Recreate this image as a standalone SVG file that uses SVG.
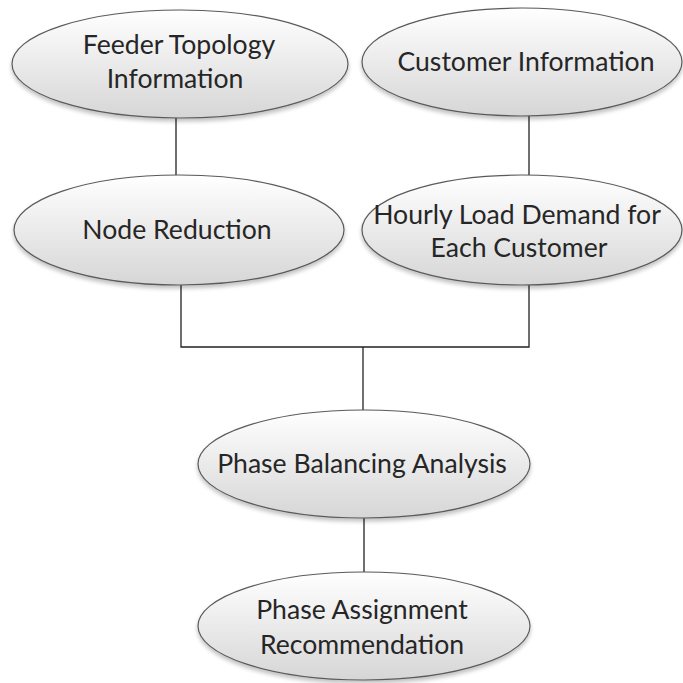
<svg xmlns="http://www.w3.org/2000/svg" width="683" height="683" viewBox="0 0 683 683">
<defs>
<linearGradient id="g" x1="0" y1="0" x2="0" y2="1">
<stop offset="0" stop-color="#ffffff"/>
<stop offset="1" stop-color="#d6d6d6"/>
</linearGradient>
<filter id="sh" x="-10%" y="-10%" width="120%" height="130%">
<feGaussianBlur in="SourceAlpha" stdDeviation="2"/>
<feOffset dx="0" dy="3" result="b"/>
<feComponentTransfer><feFuncA type="linear" slope="0.25"/></feComponentTransfer>
<feMerge><feMergeNode/><feMergeNode in="SourceGraphic"/></feMerge>
</filter>
</defs>
<style>
.n{fill:url(#g);stroke:#5a5a5a;stroke-width:1.2;filter:url(#sh)}
.t{font-family:Lato,"Open Sans",sans-serif;font-size:26.6px;fill:#262626;text-anchor:middle}
.c{fill:none;stroke:#222;stroke-width:1.3}
</style>
<rect width="683" height="683" fill="#fff"/>
<g id="connectors">
<line class="c" x1="176" y1="118" x2="176" y2="175"/>
<line class="c" x1="529" y1="116" x2="529" y2="175"/>
<polyline class="c" points="181,285 181,347 529,347 529,285"/>
<line class="c" x1="363" y1="347" x2="363" y2="410"/>
<line class="c" x1="364" y1="518" x2="364" y2="572"/>
</g>
<g id="feeder">
<ellipse class="n" cx="180" cy="64" rx="168" ry="54"/>
<text class="t" x="179" y="54">Feeder Topology</text>
<text class="t" x="175" y="88">Information</text>
</g>
<g id="customer">
<ellipse class="n" cx="522" cy="62" rx="160" ry="54"/>
<text class="t" x="526" y="71">Customer Information</text>
</g>
<g id="node-reduction">
<ellipse class="n" cx="179" cy="230" rx="165" ry="55"/>
<text class="t" x="177" y="239">Node Reduction</text>
</g>
<g id="hourly">
<ellipse class="n" cx="522" cy="230" rx="160" ry="55"/>
<text class="t" x="517" y="224">Hourly Load Demand for</text>
<text class="t" x="519" y="257">Each Customer</text>
</g>
<g id="phase-balancing">
<ellipse class="n" cx="364" cy="464" rx="166" ry="54"/>
<text class="t" x="362" y="473">Phase Balancing Analysis</text>
</g>
<g id="phase-assignment">
<ellipse class="n" cx="364" cy="626" rx="166" ry="54"/>
<text class="t" x="362" y="619">Phase Assignment</text>
<text class="t" x="362" y="654">Recommendation</text>
</g>
</svg>
